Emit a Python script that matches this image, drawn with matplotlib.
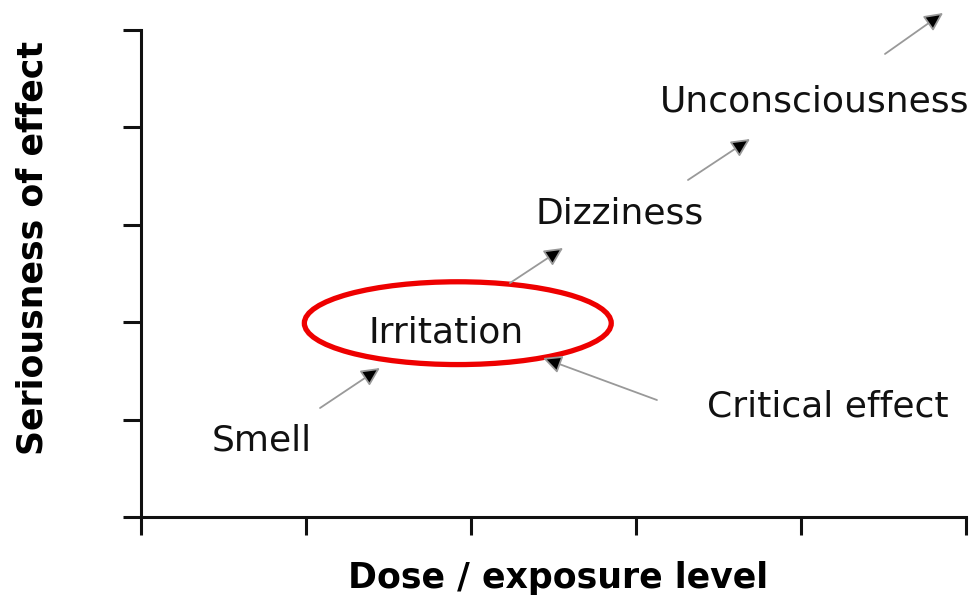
import matplotlib.pyplot as plt
from matplotlib.patches import Ellipse

# effect labels and where they sit (data units: dose 0-5, seriousness 0-5)
labels = ["Smell", "Irritation", "Dizziness", "Unconsciousness", "Critical effect"]
label_x = [0.73, 1.85, 2.90, 4.08, 4.16]
label_y = [0.79, 1.89, 3.12, 4.27, 1.13]

# arrows: tail -> tip
arrow_x0 = [1.085, 2.236, 3.315, 4.509, 3.127]
arrow_y0 = [1.119, 2.402, 3.460, 4.754, 1.201]
arrow_x1 = [1.448, 2.558, 3.691, 4.861, 2.436]
arrow_y1 = [1.530, 2.762, 3.881, 5.175, 1.632]

ticks = [0, 1, 2, 3, 4, 5]

# highlight around the critical effect
ell_center = (1.92, 1.99)
ell_w, ell_h = 1.86, 0.85

fig = plt.figure(figsize=(9.79, 6.02), dpi=100)
ax = fig.add_axes([141/979, 85/602, 825/979, 487/602])

ax.set_xlim(0, 5)
ax.set_ylim(0, 5)
ax.set_xticks(ticks)
ax.set_yticks(ticks)
ax.set_xticklabels([])
ax.set_yticklabels([])
ax.tick_params(direction='out', length=13, width=2.2, color='#111111')
for s in ['top', 'right']:
    ax.spines[s].set_visible(False)
for s in ['left', 'bottom']:
    ax.spines[s].set_linewidth(2.2)
    ax.spines[s].set_color('#111111')

for t, x, y in zip(labels, label_x, label_y):
    ax.text(x, y, t, ha='center', va='center', fontsize=26, color='#111111', clip_on=False)

for x0, y0, x1, y1 in zip(arrow_x0, arrow_y0, arrow_x1, arrow_y1):
    ax.annotate('', xy=(x1, y1), xytext=(x0, y0), annotation_clip=False,
                arrowprops=dict(arrowstyle='-|>,head_length=0.45,head_width=0.22',
                                ec='#999999', fc='black', lw=1.3,
                                shrinkA=0, shrinkB=0, mutation_scale=25))

ax.add_patch(Ellipse(ell_center, ell_w, ell_h, fill=False, ec='#ee0000', lw=3.8))

ax.set_xlabel("Dose / exposure level", fontsize=25, fontweight='bold')
ax.set_ylabel("Seriousness of effect", fontsize=25, fontweight='bold')
ax.xaxis.set_label_coords(0.505, -0.125)
ax.yaxis.set_label_coords(-0.131, 0.552)
ax.xaxis.label.set_va('center')
ax.yaxis.label.set_va('center')

fig.savefig("out.png", dpi=100)
